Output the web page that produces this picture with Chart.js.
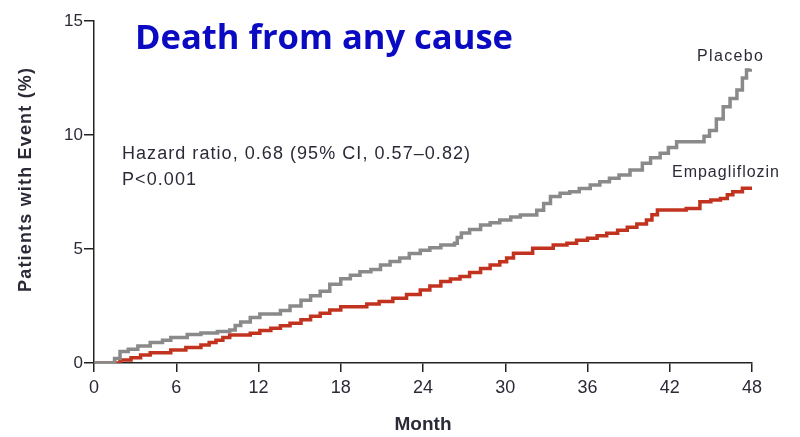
<!DOCTYPE html>
<html>
<head>
<meta charset="utf-8">
<script src="https://cdn.jsdelivr.net/npm/chart.js@4.4.0/dist/chart.umd.min.js"></script>
<style>
html,body{margin:0;padding:0;background:#fff;}
#wrap{width:800px;height:437px;}
</style>
</head>
<body>
<div id="wrap"><canvas id="c" width="800" height="437"></canvas></div>
<script>
const xTicks = [0, 6, 12, 18, 24, 30, 36, 42, 48];
const yTicks = [0, 5, 10, 15];

const placeboMonths = [0,1.2,1.5,1.9,2.5,3.2,4.1,5.0,5.6,6.8,7.8,9.0,9.9,10.3,10.7,11.4,12.1,13.6,14.3,15.1,15.8,16.5,17.2,18.0,18.7,19.4,20.2,20.9,21.6,22.3,23.0,23.8,24.5,25.3,26.3,26.5,26.8,27.4,28.2,28.9,29.6,30.4,31.1,31.8,32.3,32.8,33.3,34.0,34.7,35.4,36.2,36.9,37.6,38.3,39.1,40.0,40.6,41.3,41.9,42.5,44.0,44.5,44.9,45.4,45.9,46.4,46.9,47.3,47.6,47.9];
const placeboValues = [0,0,0.2,0.5,0.6,0.75,0.9,1.0,1.12,1.25,1.32,1.38,1.45,1.65,1.8,2.0,2.15,2.3,2.5,2.75,2.95,3.15,3.45,3.7,3.85,4.0,4.1,4.3,4.45,4.6,4.8,4.95,5.05,5.18,5.25,5.5,5.7,5.85,6.05,6.15,6.27,6.4,6.49,6.49,6.7,7.0,7.3,7.45,7.51,7.65,7.81,7.95,8.1,8.25,8.46,8.76,9.0,9.2,9.45,9.7,9.7,9.95,10.2,10.7,11.24,11.6,11.97,12.5,12.85,12.9];

const empaMonths = [0,1.4,1.9,2.7,3.4,4.1,5.6,6.7,7.8,8.4,8.9,9.4,9.9,11.4,12.1,12.9,13.6,14.3,15.1,15.8,16.5,17.2,18.0,19.9,20.8,21.8,22.8,23.8,24.5,25.3,26.0,26.7,27.4,28.2,28.9,29.6,30.1,30.6,32.0,33.5,34.5,35.2,36.0,36.7,37.4,38.2,38.9,39.6,40.3,40.7,41.1,43.2,44.2,45.0,45.7,46.2,46.6,47.3,48.0];
const empaValues = [0,0,0.13,0.23,0.35,0.45,0.57,0.68,0.79,0.9,1.0,1.12,1.23,1.3,1.42,1.52,1.63,1.74,1.9,2.05,2.18,2.33,2.47,2.59,2.7,2.84,3.0,3.2,3.38,3.57,3.68,3.79,3.97,4.15,4.3,4.44,4.6,4.81,5.03,5.18,5.25,5.38,5.47,5.58,5.69,5.82,5.95,6.1,6.27,6.5,6.71,6.78,7.07,7.15,7.22,7.38,7.51,7.66,7.66];

const titleText = "Death from any cause";
const hrText = "Hazard ratio, 0.68 (95% CI, 0.57\u20130.82)";
const pText = "P<0.001";
const yTitle = "Patients with Event (%)";
const seriesNames = ["Placebo", "Empagliflozin"];

function pts(xs, ys){ return xs.map((x,i)=>({x:x, y:ys[i]})); }

function fitText(ctx, text, x, y, targetW){
  const w0 = ctx.measureText(text).width;
  const n = text.length;
  const extra = (targetW - w0) / (n - 1);
  let cx = x;
  for (const ch of text){
    ctx.fillText(ch, cx, y);
    cx += ctx.measureText(ch).width + extra;
  }
}

const textPlugin = {
  id: 'texts',
  afterDraw(chart){
    const ctx = chart.ctx;
    const xs = chart.scales.x, ys = chart.scales.y;
    ctx.save();
    // Title
    ctx.fillStyle = '#0a0ac2';
    ctx.textBaseline = 'alphabetic';
    ctx.textAlign = 'left';
    let size = 36;
    ctx.font = 'bold ' + size + 'px "Open Sans"';
    const w = ctx.measureText(titleText).width;
    size = size * 378 / w;
    ctx.font = 'bold ' + size.toFixed(2) + 'px "Open Sans"';
    ctx.fillText(titleText, 135, 49);
    // Hazard ratio
    ctx.fillStyle = '#2b2b38';
    ctx.font = '18px "Liberation Sans"';
    fitText(ctx, hrText, 122, 159, 348);
    fitText(ctx, pText, 122, 185, 74);
    // series labels
    ctx.font = '16px "Liberation Sans"';
    ctx.textAlign = 'left';
    fitText(ctx, seriesNames[0], 697, 61, 66);
    fitText(ctx, seriesNames[1], 672, 177, 107);
    // y axis title
    ctx.save();
    ctx.translate(31, 180);
    ctx.rotate(-Math.PI/2);
    ctx.font = 'bold 18px "Liberation Sans"';
    ctx.textAlign = 'left';
    fitText(ctx, yTitle, -112, 0, 224);
    ctx.restore();
    ctx.restore();
  }
};

new Chart(document.getElementById('c'), {
  type: 'line',
  data: {
    datasets: [
      { label: seriesNames[0], data: pts(placeboMonths, placeboValues), borderColor: '#8a8a8a', borderWidth: 3.5, pointRadius: 0, stepped: 'before', fill: false },
      { label: seriesNames[1], data: pts(empaMonths, empaValues), borderColor: '#c2331f', borderWidth: 3.5, pointRadius: 0, stepped: 'before', fill: false }
    ]
  },
  options: {
    responsive: false,
    devicePixelRatio: 1,
    animation: false,
    layout: { padding: { top: 21, right: 48, left: 0, bottom: 0 } },
    plugins: { legend: { display: false }, tooltip: { enabled: false }, title: { display: false } },
    scales: {
      x: {
        type: 'linear', min: 0, max: 48,
        afterBuildTicks(s){ s.ticks = xTicks.map(v=>({value:v})); },
        afterFit(s){ s.height = 74; },
        grid: { drawOnChartArea: false, drawTicks: true, tickLength: 9, color: '#222', lineWidth: 1.5 },
        border: { display: true, color: '#222', width: 1.5 },
        ticks: { color: '#2b2b38', font: { family: 'Liberation Sans', size: 18 }, padding: 5, maxRotation: 0, autoSkip: false },
        title: { display: true, text: 'Month', color: '#2b2b38', font: { family: 'Liberation Sans', size: 19, weight: 'bold' }, padding: { top: 0, bottom: 1 } }
      },
      y: {
        type: 'linear', min: 0, max: 15,
        afterBuildTicks(s){ s.ticks = yTicks.map(v=>({value:v})); },
        afterFit(s){ s.width = 94; },
        grid: { drawOnChartArea: false, drawTicks: true, tickLength: 10, color: '#222', lineWidth: 1.5 },
        border: { display: true, color: '#222', width: 1.5 },
        ticks: { color: '#2b2b38', font: { family: 'Liberation Sans', size: 17 }, padding: 1 },
        title: { display: false }
      }
    }
  },
  plugins: [textPlugin]
});
</script>
</body>
</html>
